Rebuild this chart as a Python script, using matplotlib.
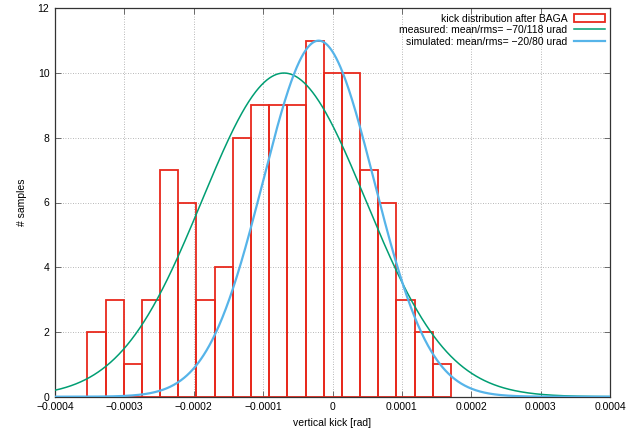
import numpy as np
import matplotlib
matplotlib.use("Agg")
import matplotlib.pyplot as plt

plt.rcParams['font.family'] = ['Liberation Sans', 'DejaVu Sans']

# histogram data
bin_first_left = -3.533e-4
bin_width = 2.62e-5
counts = [2, 3, 1, 3, 7, 6, 3, 4, 8, 9, 9, 9, 11, 10, 10, 7, 6, 3, 2, 1]

# gaussian curves: (mean, rms, peak)
measured = (-70e-6, 118e-6, 10.0)
simulated = (-20e-6, 80e-6, 11.0)

labels = ["kick distribution after BAGA",
          "measured: mean/rms= \u221270/118 urad",
          "simulated: mean/rms= \u221220/80 urad"]

xticks = [-0.0004, -0.0003, -0.0002, -0.0001, 0, 0.0001, 0.0002, 0.0003, 0.0004]
xticklabels = ["\u22120.0004", "\u22120.0003", "\u22120.0002", "\u22120.0001", "0",
               "0.0001", "0.0002", "0.0003", "0.0004"]
yticks = [0, 2, 4, 6, 8, 10, 12]

fig = plt.figure(figsize=(6.38, 4.32), dpi=100)
ax = fig.add_axes([55/638, 1 - 396.7/432, (610-55)/638, (396.7-8.3)/432])

red = '#e8291c'
green = '#009e73'
blue = '#56b4e9'

lefts = bin_first_left + bin_width * np.arange(len(counts))
bars = ax.bar(lefts, counts, width=bin_width, align='edge', fill=False,
              edgecolor=red, linewidth=1.3, label=labels[0], zorder=2)

x = np.linspace(-0.0004, 0.0004, 800)
m, s, a = measured
l1, = ax.plot(x, a*np.exp(-(x-m)**2/(2*s**2)), color=green, lw=1.1, label=labels[1], zorder=3)
m, s, a = simulated
l2, = ax.plot(x, a*np.exp(-(x-m)**2/(2*s**2)), color=blue, lw=1.6, label=labels[2], zorder=3)

ax.set_xlim(-0.0004, 0.0004)
ax.set_ylim(0, 12)
ax.set_xticks(xticks)
ax.set_xticklabels(xticklabels)
ax.set_yticks(yticks)
ax.tick_params(direction='in', top=True, right=True, labelsize=7.5, length=4, width=0.6, pad=4,
               color='#555555')
ax.grid(True, linestyle=(0, (1, 2)), color='#a0a0a0', linewidth=0.6)
ax.set_axisbelow(True)
for sp in ax.spines.values():
    sp.set_linewidth(0.9)
    sp.set_color('#333333')

ax.set_xlabel("vertical kick [rad]", fontsize=7.5, labelpad=4)
ax.set_ylabel("# samples", fontsize=7.5, labelpad=8)

leg = ax.legend([bars, l1, l2], labels, loc='upper right', frameon=False, fontsize=7.5,
                markerfirst=False, handlelength=3.0, handletextpad=0.6, labelspacing=0.15,
                borderaxespad=0.3, borderpad=0.2)

fig.savefig("out.png", dpi=100)
